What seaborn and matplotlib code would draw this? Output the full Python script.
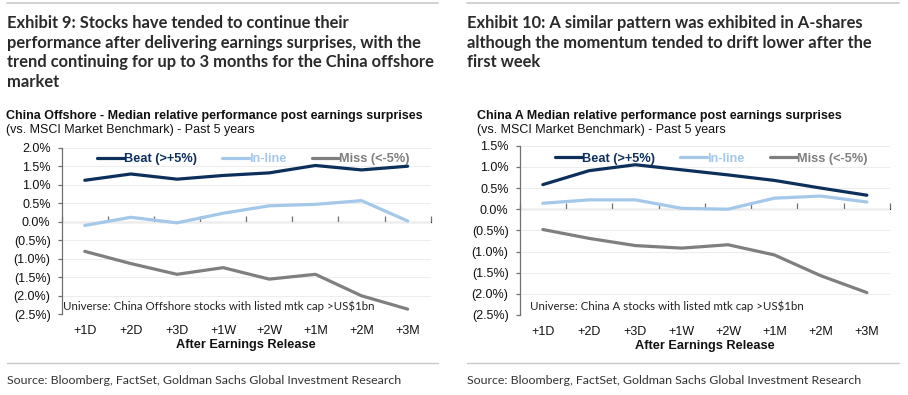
import matplotlib
matplotlib.use("Agg")
from matplotlib import pyplot as plt
import numpy as np
import pandas as pd
import seaborn as sns

periods = ["+1D", "+2D", "+3D", "+1W", "+2W", "+1M", "+2M", "+3M"]
series_names = ["Beat (>+5%)", "In-line", "Miss (<-5%)"]

# China Offshore (Exhibit 9), % relative performance
offshore_beat = [1.12, 1.29, 1.15, 1.25, 1.32, 1.52, 1.40, 1.50]
offshore_inline = [-0.10, 0.12, -0.03, 0.23, 0.43, 0.47, 0.57, 0.02]
offshore_miss = [-0.80, -1.13, -1.42, -1.24, -1.55, -1.42, -2.00, -2.36]

# China A (Exhibit 10)
china_a_beat = [0.58, 0.91, 1.05, 0.93, 0.81, 0.68, 0.50, 0.33]
china_a_inline = [0.14, 0.22, 0.22, 0.02, 0.00, 0.26, 0.31, 0.17]
china_a_miss = [-0.48, -0.69, -0.86, -0.92, -0.84, -1.08, -1.57, -1.97]

colors = ["#0c2f5c", "#a3c8e9", "#7f7f7f"]

exhibit_titles = [
    "Exhibit 9: Stocks have tended to continue their\nperformance after delivering earnings surprises, with the\ntrend continuing for up to 3 months for the China offshore\nmarket",
    "Exhibit 10: A similar pattern was exhibited in A-shares\nalthough the momentum tended to drift lower after the\nfirst week",
]
chart_titles = [
    "China Offshore - Median relative performance post earnings surprises",
    "China A Median relative performance post earnings surprises",
]
subtitle = "(vs. MSCI Market Benchmark) - Past 5 years"
universe_notes = [
    "Universe: China Offshore stocks with listed mtk cap >US$1bn",
    "Universe: China A stocks with listed mtk cap >US$1bn",
]
source = "Source: Bloomberg, FactSet, Goldman Sachs Global Investment Research"


def make_frame(beat, inline, miss):
    rows = []
    for name, vals in zip(series_names, [beat, inline, miss]):
        for p, v in zip(periods, vals):
            rows.append({"period": p, "series": name, "value": v})
    return pd.DataFrame(rows)


def fmt_pct(v, pos=None):
    if v < -1e-9:
        return f"({abs(v):.1f}%)"
    return f"{abs(v):.1f}%"


sns.set_style("white")
plt.rcParams["font.family"] = ["Liberation Sans", "DejaVu Sans"]

W, H = 908, 395
fig = plt.figure(figsize=(W / 100, H / 100), dpi=100)

panels = [
    dict(df=make_frame(offshore_beat, offshore_inline, offshore_miss),
         rect=[61.7 / W, 80.7 / H, 369 / W, 166.6 / H], ylim=(-2.5, 2.0),
         x0=6, leg=(0.095, 0.968), note_x=0.004),
    dict(df=make_frame(china_a_beat, china_a_inline, china_a_miss),
         rect=[519.7 / W, 80 / H, 370.3 / W, 169.3 / H], ylim=(-2.5, 1.5),
         x0=477, leg=(0.095, 0.958), note_x=0.027),
]

for i, p in enumerate(panels):
    ax = fig.add_axes(p["rect"])
    sns.lineplot(data=p["df"], x="period", y="value", hue="series",
                 palette=colors, linewidth=2.3, sort=False, ax=ax)
    ymin, ymax = p["ylim"]
    ax.set_ylim(ymin, ymax)
    ax.set_xlim(-0.5, 7.5)
    ax.set_yticks(np.arange(ymin, ymax + 0.01, 0.5))
    ax.yaxis.set_major_formatter(plt.FuncFormatter(fmt_pct))
    ax.grid(axis="y", color="#ededed", linewidth=0.8)
    ax.set_axisbelow(True)
    for s in ["top", "right", "bottom"]:
        ax.spines[s].set_visible(False)
    ax.spines["left"].set_color("#707070")
    ax.spines["left"].set_linewidth(0.9)
    ax.tick_params(axis="both", labelsize=9.0, labelcolor="#111111")
    ax.tick_params(axis="y", left=True, length=3, width=0.9, color="#707070",
                   direction="out", pad=5)
    ax.tick_params(axis="x", length=0, pad=8)
    ax.set_ylabel("")
    ax.set_xlabel("After Earnings Release", fontsize=9.2, fontweight="bold",
                  labelpad=1, color="#111111")

    # zero line with category-boundary tick marks
    zero_frac = (0 - ymin) / (ymax - ymin)
    sec = ax.secondary_xaxis(zero_frac)
    sec.set_xticks(np.arange(-0.5, 8.0, 1.0))
    sec.set_xticklabels([])
    sec.spines["bottom"].set_color("#707070")
    sec.spines["bottom"].set_linewidth(0.9)
    sec.tick_params(axis="x", direction="out", length=4, width=0.9, color="#707070")

    sns.move_legend(ax, "upper left", bbox_to_anchor=p["leg"], ncol=3,
                    frameon=False, title=None, handlelength=2.1,
                    handletextpad=0.0, columnspacing=2.0, borderaxespad=0,
                    borderpad=0, labelcolor="linecolor",
                    prop={"weight": "bold", "size": 9.2})

    ax.text(p["note_x"], 0.015, universe_notes[i], transform=ax.transAxes,
            fontsize=8.3, family=["Lato", "DejaVu Sans"], color="#222222",
            va="bottom", ha="left")

    x0 = p["x0"] / W
    fig.text(x0, 1 - 110 / H, chart_titles[i], fontsize=9.0, fontweight="bold",
             va="top", ha="left", color="#111111")
    fig.text(x0, 1 - 124 / H, subtitle, fontsize=9.0, va="top", ha="left",
             color="#111111")

# exhibit headers, separators and sources
for j, (xl, xr) in enumerate([(7, 438), (467, 899)]):
    fig.add_artist(plt.Line2D([xl / W, xr / W], [1 - 3 / H, 1 - 3 / H],
                              color="#c8c8c8", linewidth=1.2))
    fig.add_artist(plt.Line2D([xl / W, xr / W], [1 - 363 / H, 1 - 363 / H],
                              color="#c8c8c8", linewidth=1.0))
    fig.text(xl / W, 1 - 15 / H, exhibit_titles[j], fontsize=11.9,
             fontweight="bold", family=["Lato", "DejaVu Sans"], color="#2a2a2a",
             va="top", ha="left", linespacing=1.28)
    fig.text(xl / W, 1 - 381 / H, source, fontsize=8.9,
             family=["Lato", "DejaVu Sans"], color="#333333",
             va="center", ha="left")

fig.savefig("out.png", dpi=100)
